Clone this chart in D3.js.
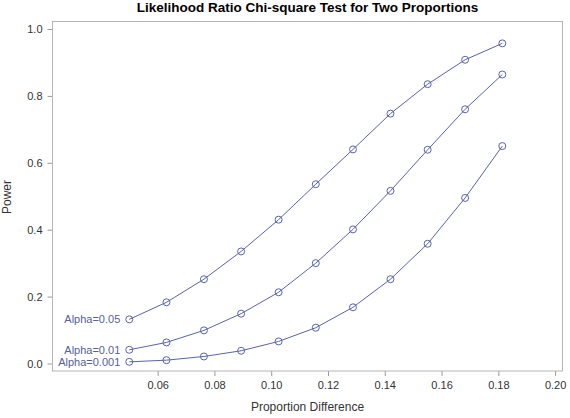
<!DOCTYPE html>
<html lang="en">
<head>
<meta charset="UTF-8">
<title>Likelihood Ratio Chi-square Test for Two Proportions</title>
<script src="https://d3js.org/d3.v7.min.js"></script>
<style>
    body { margin: 0; background: #fff; font-family: "Liberation Sans", Arial, sans-serif; }
    .tick text { font-size: 11px; fill: #333; }
    .tick line { stroke: #999; }
</style>
</head>
<body>
<div id="chart"></div>
<script>
    // Data
    const propDiff = [0.05, 0.0631, 0.0763, 0.0894, 0.1026, 0.1157, 0.1288, 0.1420, 0.1551, 0.1683, 0.1814];
    const power05 = [0.132, 0.183, 0.252, 0.335, 0.430, 0.536, 0.640, 0.747, 0.835, 0.908, 0.957];
    const power01 = [0.041, 0.063, 0.099, 0.149, 0.213, 0.300, 0.401, 0.516, 0.639, 0.760, 0.864];
    const power001 = [0.005, 0.010, 0.021, 0.038, 0.066, 0.107, 0.168, 0.252, 0.358, 0.495, 0.650];
    const seriesNames = ["Alpha=0.05", "Alpha=0.01", "Alpha=0.001"];
    const xTicks = [0.06, 0.08, 0.10, 0.12, 0.14, 0.16, 0.18, 0.20];
    const yTicks = [0.0, 0.2, 0.4, 0.6, 0.8, 1.0];

    const series = [power05, power01, power001].map((vals, i) => ({
        name: seriesNames[i],
        values: vals.map((v, j) => ({ x: propDiff[j], y: v }))
    }));

    const W = 570, H = 418;
    const margin = { top: 21.5, right: 7.5, bottom: 47, left: 52.5 };
    const lineColor = "#5a63a6";

    const svg = d3.select("#chart").append("svg")
        .attr("width", W).attr("height", H);

    const x = d3.scaleLinear()
        .domain([0.02296, 0.2026])
        .range([margin.left, W - margin.right]);
    const y = d3.scaleLinear()
        .domain([-0.0224, 1.0224])
        .range([H - margin.bottom, margin.top]);

    // Title
    svg.append("text")
        .attr("x", 307.5).attr("y", 12)
        .attr("text-anchor", "middle")
        .style("font-size", "13.5px").style("font-weight", "bold").style("fill", "#000")
        .text("Likelihood Ratio Chi-square Test for Two Proportions");

    // Axes
    svg.append("g")
        .attr("transform", `translate(0,${H - margin.bottom})`)
        .call(d3.axisBottom(x).tickValues(xTicks).tickFormat(d3.format(".2f")).tickSize(5).tickPadding(5))
        .call(g => g.select(".domain").remove());

    svg.append("g")
        .attr("transform", `translate(${margin.left},0)`)
        .call(d3.axisLeft(y).tickValues(yTicks).tickFormat(d3.format(".1f")).tickSize(5).tickPadding(5))
        .call(g => g.select(".domain").remove());

    // Frame
    svg.append("rect")
        .attr("x", margin.left).attr("y", margin.top)
        .attr("width", W - margin.right - margin.left)
        .attr("height", H - margin.bottom - margin.top)
        .attr("fill", "none").attr("stroke", "#b5b5b5").attr("stroke-width", 1);

    // Axis labels
    svg.append("text")
        .attr("x", 307.5).attr("y", 411)
        .attr("text-anchor", "middle")
        .style("font-size", "12px").style("fill", "#333")
        .text("Proportion Difference");

    svg.append("text")
        .attr("transform", "rotate(-90)")
        .attr("x", -197).attr("y", 11)
        .attr("text-anchor", "middle")
        .style("font-size", "12px").style("fill", "#333")
        .text("Power");

    // Lines and markers
    const line = d3.line()
        .x(d => x(d.x))
        .y(d => y(d.y));

    series.forEach(s => {
        svg.append("path")
            .datum(s.values)
            .attr("d", line)
            .attr("fill", "none")
            .attr("stroke", lineColor)
            .attr("stroke-width", 1);

        svg.selectAll(null)
            .data(s.values)
            .enter()
            .append("circle")
            .attr("cx", d => x(d.x))
            .attr("cy", d => y(d.y))
            .attr("r", 3.5)
            .attr("fill", "none")
            .attr("stroke", lineColor)
            .attr("stroke-width", 1);

        svg.append("text")
            .attr("x", x(s.values[0].x) - 9)
            .attr("y", y(s.values[0].y))
            .attr("dy", "0.35em")
            .attr("text-anchor", "end")
            .style("font-size", "11px")
            .style("fill", "#56609a")
            .text(s.name);
    });
</script>
</body>
</html>
